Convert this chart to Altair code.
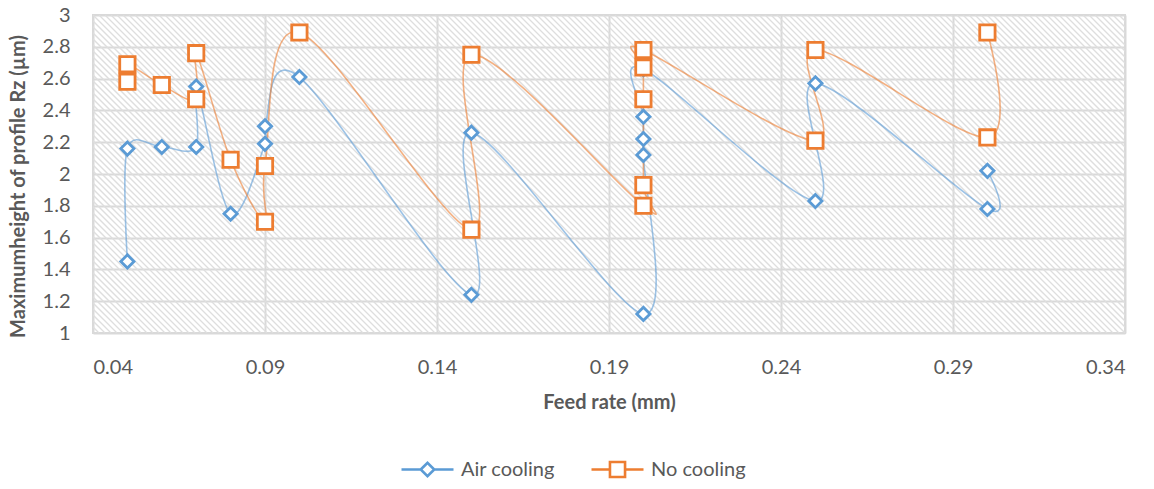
import altair as alt
import pandas as pd

# ---------------- data ----------------
series_names = ["Air cooling", "No cooling"]

air_feed = [0.05, 0.05, 0.06, 0.07, 0.07, 0.08, 0.09, 0.09, 0.10, 0.15,
            0.15, 0.20, 0.20, 0.20, 0.20, 0.20, 0.25, 0.25, 0.30, 0.30]
air_rz = [1.45, 2.16, 2.17, 2.17, 2.55, 1.75, 2.19, 2.30, 2.61, 1.24,
          2.26, 1.12, 2.12, 2.22, 2.36, 2.66, 1.83, 2.57, 1.78, 2.02]

no_feed = [0.05, 0.05, 0.06, 0.07, 0.07, 0.08, 0.09, 0.09, 0.10, 0.15,
           0.15, 0.20, 0.20, 0.20, 0.20, 0.20, 0.25, 0.25, 0.30, 0.30]
no_rz = [2.58, 2.69, 2.56, 2.47, 2.76, 2.09, 1.70, 2.05, 2.89, 1.65,
         2.75, 1.80, 1.93, 2.47, 2.67, 2.78, 2.21, 2.78, 2.23, 2.89]

x_ticks = [0.04, 0.09, 0.14, 0.19, 0.24, 0.29, 0.34]
y_ticks = [1, 1.2, 1.4, 1.6, 1.8, 2, 2.2, 2.4, 2.6, 2.8, 3]

x_title = "Feed rate (mm)"
y_title = "Maximumheight of profile Rz (µm)"

# ---------------- tables ----------------
air_df = pd.DataFrame({"feed": air_feed, "rz": air_rz,
                       "series": series_names[0], "i": range(len(air_feed))})
no_df = pd.DataFrame({"feed": no_feed, "rz": no_rz,
                      "series": series_names[1], "i": range(len(no_feed))})

# ---------------- styling ----------------
W, H = 1032, 318
FONT = "Lato"
TXT = "#595959"
GRID = "#D9D9D9"
BLUE, ORANGE = "#5B9BD5", "#ED7D31"

xscale = alt.Scale(domain=[x_ticks[0], x_ticks[-1]], nice=False, zero=False)
yscale = alt.Scale(domain=[y_ticks[0], y_ticks[-1]], nice=False, zero=False)

xaxis = alt.Axis(values=x_ticks, format=".2f", title=x_title)
yaxis = alt.Axis(values=y_ticks, format=".1~f", title=y_title)

X = alt.X("feed:Q", scale=xscale, axis=xaxis)
Y = alt.Y("rz:Q", scale=yscale, axis=yaxis)

# diagonal hatch of the plot area (decoration, generated by a sequence)
span = (x_ticks[-1] - x_ticks[0]) / W  # data units per pixel
hatch = (
    alt.Chart(alt.sequence(0, 232, as_="k"))
    .transform_calculate(
        hx0=f"{x_ticks[0]} + (datum.k * 6 - {H}) * {span}",
        hx1=f"{x_ticks[0]} + (datum.k * 6) * {span}",
        hy0=f"{y_ticks[-1]}",
        hy1=f"{y_ticks[0]}",
    )
    .mark_rule(stroke="#DEDEDE", strokeWidth=1.3, clip=True)
    .encode(
        x=alt.X("hx0:Q", scale=xscale, axis=xaxis),
        x2="hx1:Q",
        y=alt.Y("hy0:Q", scale=yscale, axis=yaxis),
        y2="hy1:Q",
    )
)

# legend symbols: line with marker in the middle (custom paths, unit = 26 px)
air_sym = "M-1,0H-0.26M0.26,0H1M-0.26,0L0,-0.26L0.26,0L0,0.26Z"
no_sym = "M-1,0H-0.29M0.29,0H1M-0.29,-0.29H0.29V0.29H-0.29Z"


def make_legend(x, sym, col):
    return alt.Legend(
        orient="none",
        legendX=x,
        legendY=427,
        title=None,
        padding=0,
        labelFont=FONT,
        labelFontSize=20,
        labelColor=TXT,
        labelOffset=6,
        symbolType=sym,
        symbolSize=2704,
        symbolStrokeWidth=2.6,
        symbolStrokeColor=col,
        symbolFillColor="white",
        symbolOpacity=1,
    )


def series_layers(d, name, col, shape, size, legend_x, sym):
    cs = alt.Scale(domain=[name], range=[col])
    line = (
        alt.Chart(d)
        .mark_line(interpolate="cardinal", tension=0, strokeWidth=1.6, opacity=0.6)
        .encode(x=X, y=Y, color=alt.Color("series:N", scale=cs, legend=None), order="i:Q")
    )
    pts = (
        alt.Chart(d)
        .mark_point(shape=shape, size=size, filled=False, fill="white",
                    fillOpacity=1, strokeWidth=2.8, opacity=1)
        .encode(x=X, y=Y,
                color=alt.Color("series:N", scale=cs, legend=make_legend(legend_x, sym, col)))
    )
    return line, pts


air_line, air_pts = series_layers(air_df, series_names[0], BLUE, "diamond", 175, 307, air_sym)
no_line, no_pts = series_layers(no_df, series_names[1], ORANGE, "square", 235, 497, no_sym)

chart = (
    alt.layer(hatch, air_line, no_line, air_pts, no_pts)
    .resolve_scale(color="independent")
    .properties(
        width=W,
        height=H,
        autosize=alt.AutoSizeParams(type="none"),
        padding={"left": 93, "top": 15, "right": 1154 - 93 - W, "bottom": 489 - 15 - H},
        background="white",
    )
    .configure_view(stroke=GRID, strokeWidth=2)
    .configure_axis(
        domain=False,
        ticks=False,
        tickSize=0,
        grid=True,
        gridColor=GRID,
        gridWidth=2,
        labelFont=FONT,
        labelFontSize=20,
        labelColor=TXT,
        titleFont=FONT,
        titleFontSize=20,
        titleFontWeight="bold",
        titleColor=TXT,
    )
    .configure_axisX(labelPadding=24, titleY=69, titleBaseline="middle")
    .configure_axisY(labelPadding=23, titleX=-75, titleY=171, titleBaseline="middle")
)

chart.save("out.html", embed_options={"renderer": "svg", "actions": False})
